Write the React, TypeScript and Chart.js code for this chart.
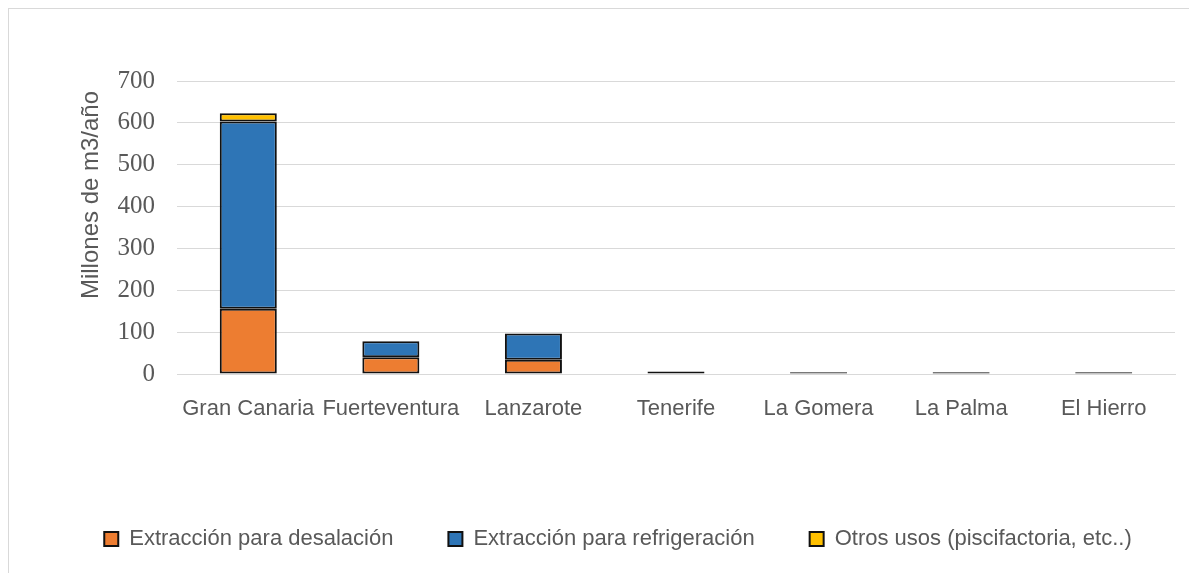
import React, { useEffect, useRef } from "react";
import { Chart, registerables } from "chart.js";

Chart.register(...registerables);

const CATEGORIES = ["Gran Canaria", "Fuerteventura", "Lanzarote", "Tenerife", "La Gomera", "La Palma", "El Hierro"];
const DESALACION = [156, 40, 34, 6, 4, 4, 4];
const REFRIGERACION = [447, 38, 63, 0, 0, 0, 0];
const OTROS = [20, 0, 0, 0, 0, 0, 0];
const SERIES_NAMES = ["Extracción para desalación", "Extracción para refrigeración", "Otros usos (piscifactoria, etc..)"];
const Y_TITLE = "Millones de m3/año";
const Y_MIN = 0;
const Y_MAX = 700;
const Y_STEP = 100;

const COLORS = ["#ED7D31", "#2E75B6", "#FFC000"];
const TEXT = "#595959";
const GRID = "#d9d9d9";

const yTitlePlugin = {
  id: "yTitle",
  afterDraw(chart: any) {
    const ctx = chart.ctx;
    ctx.save();
    ctx.translate(82, 186);
    ctx.rotate(-Math.PI / 2);
    ctx.font = '24px "Liberation Sans", Arial, sans-serif';
    ctx.fillStyle = TEXT;
    ctx.textAlign = "center";
    ctx.textBaseline = "middle";
    ctx.fillText(Y_TITLE, 0, 0);
    ctx.restore();
  },
};

export default function App() {
  const ref = useRef<HTMLCanvasElement | null>(null);

  useEffect(() => {
    if (!ref.current) return;
    const data = [DESALACION, REFRIGERACION, OTROS];
    const chart = new Chart(ref.current, {
      type: "bar",
      data: {
        labels: CATEGORIES,
        datasets: data.map((d, i) => ({
          label: SERIES_NAMES[i],
          data: d,
          backgroundColor: COLORS[i],
          borderColor: "#111111",
          borderWidth: 2,
          borderSkipped: false,
          categoryPercentage: 1,
          barPercentage: 0.4,
        })),
      },
      options: {
        responsive: false,
        animation: false,
        layout: { padding: { left: 38, right: 0, top: 72, bottom: 13 } },
        plugins: {
          title: { display: false },
          tooltip: { enabled: false },
          legend: {
            position: "bottom",
            labels: {
              boxWidth: 14,
              boxHeight: 14,
              padding: 55,
              color: TEXT,
              font: { family: '"Liberation Sans", Arial, sans-serif', size: 22 },
            },
          },
        },
        scales: {
          x: {
            stacked: true,
            grid: { display: false },
            border: { display: true, color: GRID, width: 1 },
            ticks: {
              color: TEXT,
              padding: 14,
              maxRotation: 0,
              autoSkip: false,
              font: { family: '"Liberation Sans", Arial, sans-serif', size: 22 },
            },
            afterFit(scale: any) {
              scale.height = 99;
            },
          },
          y: {
            stacked: true,
            min: Y_MIN,
            max: Y_MAX,
            border: { display: false },
            grid: { color: GRID, lineWidth: 1, drawTicks: false },
            ticks: {
              stepSize: Y_STEP,
              autoSkip: false,
              color: TEXT,
              padding: 22,
              font: { family: '"Liberation Serif", "Times New Roman", serif', size: 25 },
            },
            afterFit(scale: any) {
              scale.width = 130;
            },
          },
          yRight: {
            position: "right",
            display: true,
            grid: { display: false, drawTicks: false },
            border: { display: false },
            ticks: { display: false },
            afterFit(scale: any) {
              scale.width = 14;
            },
          },
        },
      },
      plugins: [yTitlePlugin],
    });
    return () => chart.destroy();
  }, []);

  return (
    <div
      style={{
        position: "relative",
        width: 1180,
        height: 564,
        borderTop: `1px solid ${GRID}`,
        borderLeft: `1px solid ${GRID}`,
      }}
    >
      <canvas ref={ref} width={1180} height={564} style={{ display: "block" }} />
    </div>
  );
}
